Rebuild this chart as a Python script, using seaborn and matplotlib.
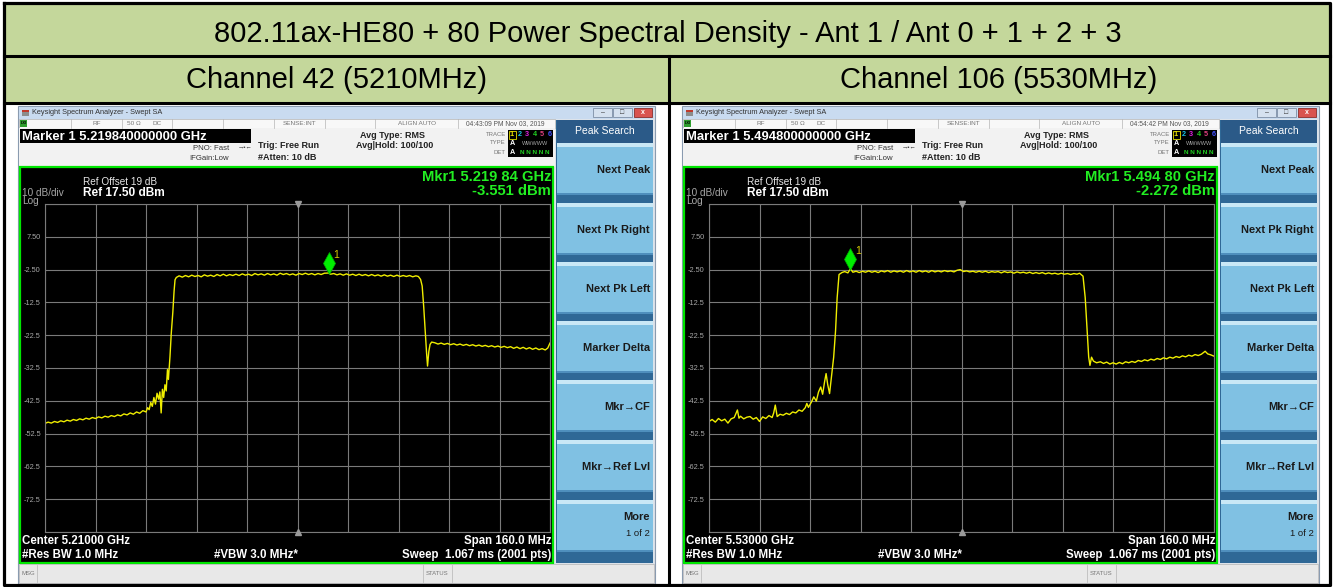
import matplotlib
matplotlib.use('Agg')
import matplotlib.pyplot as plt
import matplotlib.patches as mpatches
from matplotlib.transforms import offset_copy
import seaborn as sns

W, H = 1333, 587

title = '802.11ax-HE80 + 80 Power Spectral Density - Ant 1 / Ant 0 + 1 + 2 + 3'
channels = ['Channel 42 (5210MHz)', 'Channel 106 (5530MHz)']
center_mhz = [5210, 5530]
center_text = ['Center 5.21000 GHz', 'Center 5.53000 GHz']
span_mhz = 160
ref_level = 17.5
db_per_div = 10
marker_mhz = [5219.84, 5494.80]
marker_dbm = [-3.551, -2.272]
marker_head = ['Marker 1 5.219840000000 GHz', 'Marker 1 5.494800000000 GHz']
marker_read = ['Mkr1 5.219 84 GHz', 'Mkr1 5.494 80 GHz']
marker_val = ['-3.551 dBm', '-2.272 dBm']
timestamps = ['04:43:09 PM Nov 03, 2019', '04:54:42 PM Nov 03, 2019']
ytick_labels = ['7.50', '-2.50', '-12.5', '-22.5', '-32.5', '-42.5', '-52.5', '-62.5', '-72.5']
softkeys = ['Next Peak', 'Next Pk Right', 'Next Pk Left', 'Marker Delta', 'Mkr\u2192CF', 'Mkr\u2192Ref Lvl']

# trace (MHz, dBm)
ch42_freq = [
    5130, 5131, 5132, 5133, 5134, 5135, 5136, 5137, 5138, 5139,
    5140, 5141, 5142, 5143, 5144, 5145, 5146, 5147, 5148, 5149,
    5150, 5151, 5152, 5153, 5154, 5155, 5156, 5157, 5158, 5159,
    5160, 5161, 5162, 5162.5, 5163, 5163.5, 5164, 5164.5, 5165, 5165.5,
    5166, 5166.4, 5166.8, 5167.2, 5167.6, 5168, 5168.4, 5168.8, 5169.1, 5169.6,
    5170.0, 5170.5, 5170.9, 5171.2, 5171.6, 5172.5, 5173.5, 5174.5, 5175.5, 5176.5,
    5177.5, 5178.5, 5179.5, 5180.5, 5181.5, 5182.5, 5183.5, 5184.5, 5185.5, 5186.5,
    5187.5, 5188.5, 5189.5, 5190.5, 5191.5, 5192.5, 5193.5, 5194.5, 5195.5, 5196.5,
    5197.5, 5198.5, 5199.5, 5200.5, 5201.5, 5202.5, 5203.5, 5204.5, 5205.5, 5206.5,
    5207.5, 5208.5, 5209.5, 5210.5, 5211.5, 5212.5, 5213.5, 5214.5, 5215.5, 5216.5,
    5217.5, 5218.5, 5219.84, 5220.5, 5221.5, 5222.5, 5223.5, 5224.5, 5225.5, 5226.5,
    5227.5, 5228.5, 5229.5, 5230.5, 5231.5, 5232.5, 5233.5, 5234.5, 5235.5, 5236.5,
    5237.5, 5238.5, 5239.5, 5240.5, 5241.5, 5242.5, 5243.5, 5244.5, 5245.5, 5246.5,
    5247.5, 5248.3, 5249.0, 5249.5, 5250.0, 5250.5, 5250.9, 5251.2, 5251.6, 5252.0,
    5252.5, 5253.5, 5254.5, 5255.5, 5256.5, 5257.5, 5258.5, 5259.5, 5260.5, 5261.5,
    5262.5, 5263.5, 5264.5, 5265.5, 5266.5, 5267.5, 5268.5, 5269.5, 5270.5, 5271.5,
    5272.5, 5273.5, 5274.5, 5275.5, 5276.5, 5277.5, 5278.5, 5279.5, 5280.5, 5281.5,
    5282.5, 5283.5, 5284.5, 5285.5, 5286.5, 5287.5, 5288.5, 5289.3, 5290,
]
ch42_level = [
    -49.4, -49.0, -49.3, -48.8, -49.1, -48.6, -48.9, -48.4, -48.7, -48.2,
    -48.5, -48.0, -48.3, -47.8, -48.1, -47.6, -47.9, -47.4, -47.7, -47.2,
    -47.5, -47.0, -47.3, -46.8, -47.1, -46.5, -46.8, -46.2, -46.6, -45.9,
    -46.3, -45.5, -45.9, -44.6, -45.2, -43.0, -44.2, -41.5, -43.5, -40.2,
    -42.0, -39.8, -46.2, -39.0, -41.5, -37.6, -39.5, -33.0, -36.0, -29.0,
    -22.0, -15.5, -9.0, -5.6, -4.9, -4.4, -4.8, -4.3, -4.7, -4.2,
    -4.6, -4.3, -4.7, -4.1, -4.5, -4.2, -4.6, -4.0, -4.4, -3.9,
    -4.4, -4.0, -4.3, -3.9, -4.3, -3.8, -4.2, -3.9, -4.3, -3.7,
    -4.1, -3.8, -4.2, -3.7, -4.1, -3.8, -4.2, -3.6, -4.0, -3.7,
    -4.1, -3.8, -4.2, -3.7, -4.0, -3.6, -4.0, -3.7, -4.1, -3.7,
    -4.0, -3.6, -3.55, -3.9, -3.7, -4.1, -3.8, -4.2, -3.8, -4.2,
    -3.9, -4.3, -3.9, -4.3, -4.0, -4.4, -4.0, -4.4, -4.1, -4.5,
    -4.1, -4.5, -4.2, -4.6, -4.2, -4.6, -4.3, -4.6, -4.3, -4.7,
    -4.4, -4.6, -5.5, -7.5, -14.0, -22.0, -28.0, -31.9, -27.5, -25.3,
    -24.6, -24.8, -25.2, -24.9, -25.3, -25.0, -25.4, -25.1, -25.5, -25.2,
    -25.6, -25.3, -25.7, -25.4, -25.8, -25.5, -25.9, -25.6, -26.0, -25.7,
    -26.1, -25.8, -26.2, -25.9, -26.3, -26.0, -26.5, -26.1, -26.6, -26.2,
    -26.7, -26.3, -26.8, -26.4, -26.9, -26.6, -27.0, -26.4, -24.9,
]

# trace (MHz, dBm)
ch106_freq = [
    5450, 5451, 5452, 5453, 5454, 5455, 5456, 5457, 5458, 5459,
    5459.5, 5460, 5461, 5462, 5463, 5464, 5465, 5466, 5467, 5468,
    5469, 5470, 5470.5, 5471, 5471.6, 5472.5, 5473.5, 5474.5, 5475.5, 5476.5,
    5477.5, 5478.5, 5479.5, 5480.5, 5481, 5481.5, 5482.5, 5483.2, 5484, 5484.7,
    5485.4, 5486, 5486.6, 5487.1, 5487.6, 5488.2, 5488.8, 5489.5, 5490.1, 5490.6,
    5491.2, 5492.1, 5493.0, 5494.0, 5494.8, 5495.6, 5496.6, 5497.6, 5498.6, 5499.6,
    5500.6, 5501.6, 5502.6, 5503.6, 5504.6, 5505.6, 5506.6, 5507.6, 5508.6, 5509.6,
    5510.6, 5511.6, 5512.6, 5513.6, 5514.6, 5515.6, 5516.6, 5517.6, 5518.6, 5519.6,
    5520.6, 5521.6, 5522.6, 5523.6, 5524.6, 5525.6, 5526.6, 5527.6, 5528.6, 5529.6,
    5530.6, 5531.6, 5532.6, 5533.6, 5534.6, 5535.6, 5536.6, 5537.6, 5538.6, 5539.6,
    5540.6, 5541.6, 5542.6, 5543.6, 5544.6, 5545.6, 5546.6, 5547.6, 5548.6, 5549.6,
    5550.6, 5551.6, 5552.6, 5553.6, 5554.6, 5555.6, 5556.6, 5557.6, 5558.6, 5559.6,
    5560.6, 5561.6, 5562.6, 5563.6, 5564.6, 5565.6, 5566.6, 5567.4, 5568.5, 5569.2,
    5569.8, 5570.3, 5570.7, 5571.2, 5571.8, 5572.8, 5574.0, 5575.0, 5576.0, 5577.0,
    5578.0, 5579.0, 5580.0, 5581.0, 5582.0, 5583.0, 5584.0, 5585.0, 5586.0, 5587.0,
    5588.0, 5589.0, 5590.0, 5591.0, 5592.0, 5593.0, 5594.0, 5595.0, 5596.0, 5597.0,
    5598.0, 5599.0, 5600.0, 5601.0, 5602.0, 5603.0, 5604.0, 5605.0, 5606.0, 5607.2,
    5608.0, 5609.0, 5610.0,
]
ch106_level = [
    -48.8, -48.2, -49.0, -47.9, -48.6, -48.1, -49.3, -48.0, -47.6, -45.3,
    -47.8, -47.2, -48.0, -47.5, -47.3, -48.1, -47.6, -48.8, -47.4, -47.9,
    -47.0, -47.6, -46.2, -43.8, -47.3, -46.6, -46.9, -46.3, -46.7, -45.9,
    -46.2, -45.3, -45.7, -44.6, -43.3, -44.5, -42.8, -41.3, -42.6, -39.8,
    -38.3, -40.5, -36.8, -34.2, -37.5, -40.3, -35.2, -29.2, -21.1, -11.1,
    -4.0, -3.4, -3.1, -3.5, -2.27, -3.3, -3.0, -3.4, -3.0, -3.3,
    -2.9, -3.3, -3.0, -3.4, -2.9, -3.2, -2.8, -3.3, -2.9, -3.2,
    -2.9, -3.3, -2.8, -3.2, -2.9, -3.3, -2.8, -3.2, -2.9, -3.3,
    -2.8, -3.2, -2.9, -3.2, -2.8, -3.1, -2.9, -3.2, -2.7, -2.5,
    -3.1, -2.9, -3.2, -3.0, -3.3, -3.0, -3.3, -3.0, -3.4, -3.1,
    -3.3, -3.1, -3.5, -3.1, -3.4, -3.2, -3.6, -3.2, -3.5, -3.3,
    -3.6, -3.3, -3.7, -3.4, -3.7, -3.4, -3.8, -3.5, -3.8, -3.6,
    -3.9, -3.6, -3.9, -3.7, -4.0, -3.7, -3.9, -3.6, -4.5, -11.1,
    -21.1, -29.2, -31.7, -29.2, -30.4, -30.9, -30.6, -31.1, -30.7, -31.3,
    -30.9, -31.3, -30.8, -31.2, -30.6, -30.9, -30.5, -30.8, -30.2, -30.5,
    -30.0, -30.3, -29.8, -30.1, -29.6, -29.9, -29.4, -29.7, -29.2, -29.5,
    -29.0, -29.3, -28.8, -29.1, -28.6, -28.9, -28.4, -28.7, -28.3, -27.4,
    -28.2, -28.5, -28.9,
]

traces = [(ch42_freq, ch42_level), (ch106_freq, ch106_level)]

plt.rcParams['font.family'] = ['Liberation Sans', 'DejaVu Sans']

fig = plt.figure(figsize=(W / 100, H / 100), dpi=100)
ax0 = fig.add_axes([0, 0, 1, 1])
ax0.set_xlim(0, W)
ax0.set_ylim(H, 0)
ax0.axis('off')


def rect(x, y, w, h, **kw):
    kw.setdefault('lw', 0)
    ax0.add_patch(mpatches.Rectangle((x, y), w, h, **kw))


def txt(x, y, s, **kw):
    kw.setdefault('va', 'center')
    ax0.text(x, y, s, **kw)


# table
green = '#c4d79b'
rect(4, 4, 1325, 51, fc=green)
rect(4, 56, 1325, 47, fc=green)
ax0.plot([3.5, 1329.5, 1329.5, 3.5, 3.5], [2.5, 2.5, 584.5, 584.5, 2.5], color='black', lw=2.3)
ax0.plot([3.5, 1329.5], [55.5, 55.5], color='black', lw=2.2)
ax0.plot([3.5, 1329.5], [103, 103], color='black', lw=2.2)
ax0.plot([669, 669], [55.5, 584.5], color='black', lw=2.2)
txt(668, 34, title, ha='center', fontsize=21)
for i, ch in enumerate(channels):
    txt([337, 999][i], 80, ch, ha='center', fontsize=21)


def draw_window(i, ox):
    # frame, title bar
    rect(18 + ox, 106, 637, 478, fc='#dde3ea', ec='#8a9bb0', lw=0.8)
    rect(19 + ox, 107, 635, 12, fc='#c9dbf0')
    rect(22 + ox, 110, 7, 6, fc='#8c8c8c')
    rect(22 + ox, 110, 7, 2, fc='#c0392b')
    txt(32 + ox, 113, 'Keysight Spectrum Analyzer - Swept SA', fontsize=5.3, color='#333333')
    rect(593 + ox, 108, 19, 9, fc='#d5e1ef', ec='#7d8fa5', lw=0.6)
    rect(613 + ox, 108, 19, 9, fc='#d5e1ef', ec='#7d8fa5', lw=0.6)
    rect(634 + ox, 108, 18, 9, fc='#d9534f', ec='#8b2e2b', lw=0.6)
    txt(602.5 + ox, 112.5, '\u2013', ha='center', fontsize=5, color='#333333')
    txt(622.5 + ox, 112.5, '\u25a1', ha='center', fontsize=5, color='#333333')
    txt(643 + ox, 112.5, 'x', ha='center', fontsize=5, color='white', weight='bold')

    # status row
    rect(19 + ox, 119, 536, 9, fc='#f8f8f8', ec='#b5b5b5', lw=0.5)
    for dx in [71, 122, 172, 223, 274, 325, 375, 458]:
        ax0.plot([dx + ox, dx + ox], [119, 128], color='#b5b5b5', lw=0.5)
    rect(20 + ox, 120, 7, 7, fc='#2e9e2e')
    txt(23.5 + ox, 123.5, 'LXI', ha='center', fontsize=2.8, color='black', weight='bold')
    for s, x in [('RF', 97), ('50 \u03a9', 134), ('DC', 157), ('SENSE:INT', 300), ('ALIGN AUTO', 417)]:
        txt(x + ox, 123.5, s, ha='center', fontsize=4.6, color='#777777')
    txt(505 + ox, 123.5, timestamps[i], ha='center', fontsize=4.8, color='#555555')

    # settings area
    rect(19 + ox, 128, 536, 39, fc='#f2f2f2')
    rect(20 + ox, 129, 231, 14, fc='black')
    txt(22 + ox, 136.5, marker_head[i], fontsize=9.4, color='white', weight='bold')
    txt(229 + ox, 148, 'PNO: Fast', ha='right', fontsize=5.6, color='#333333')
    txt(245 + ox, 148, '\u2192\u2022\u2190', ha='center', fontsize=4.5, color='#333333')
    txt(229 + ox, 158, 'IFGain:Low', ha='right', fontsize=5.6, color='#333333')
    txt(258 + ox, 146, 'Trig: Free Run', fontsize=6.5, color='#222222', weight='bold')
    txt(258 + ox, 157, '#Atten: 10 dB', fontsize=6.5, color='#222222', weight='bold')
    txt(392 + ox, 136, 'Avg Type: RMS', ha='center', fontsize=6.5, color='#222222', weight='bold')
    txt(395 + ox, 146, 'Avg|Hold: 100/100', ha='center', fontsize=6.5, color='#222222', weight='bold')
    for s, y in [('TRACE', 134), ('TYPE', 143), ('DET', 152)]:
        txt(506 + ox, y, s, ha='right', fontsize=4.3, color='#777777')
    rect(508 + ox, 130, 45, 27, fc='black')
    trace_cols = ['#e8e000', '#19c5e6', '#e020e0', '#20d020', '#e04080', '#4050ff']
    for k, c in enumerate(trace_cols):
        txt(512 + 7.5 * k + ox, 134.5, str(k + 1), ha='center', fontsize=5.2, color=c, weight='bold')
    rect(509 + ox, 131, 7, 8, fc='none', ec='#e8e000', lw=0.6)
    txt(512 + ox, 143.5, 'A', ha='center', fontsize=5.2, color='white', weight='bold')
    txt(535 + ox, 143.5, 'WWWWW', ha='center', fontsize=4.0, color='#aaaaaa')
    txt(512 + ox, 152.5, 'A', ha='center', fontsize=5.2, color='white', weight='bold')
    txt(535 + ox, 152.5, 'N N N N N', ha='center', fontsize=4.6, color='#20d020', weight='bold')

    # screen
    rect(20 + ox, 167, 533, 396, fc='black', ec='#00e600', lw=1.6)
    txt(83 + ox, 182, 'Ref Offset 19 dB', fontsize=7.2, color='#e6e6e6')
    txt(83 + ox, 193.5, 'Ref 17.50 dBm', fontsize=8.6, color='white', weight='bold')
    txt(22 + ox, 193, '10 dB/div', fontsize=7.2, color='#a8a8a8')
    txt(22 + ox, 201, 'Log', fontsize=7.2, color='#a8a8a8')
    txt(551 + ox, 177, marker_read[i], ha='right', fontsize=10.6, color='#22ee22', weight='bold')
    txt(551 + ox, 191, marker_val[i], ha='right', fontsize=10.6, color='#22ee22', weight='bold')
    txt(22 + ox, 541, center_text[i], fontsize=8.3, color='white', weight='bold')
    txt(22 + ox, 555, '#Res BW 1.0 MHz', fontsize=8.3, color='white', weight='bold')
    txt(214 + ox, 555, '#VBW 3.0 MHz*', fontsize=8.3, color='white', weight='bold')
    txt(551 + ox, 541, 'Span 160.0 MHz', ha='right', fontsize=8.3, color='white', weight='bold')
    txt(551 + ox, 555, 'Sweep  1.067 ms (2001 pts)', ha='right', fontsize=8.3, color='white', weight='bold')

    # softkeys
    rect(556 + ox, 120, 97, 443, fc='#2f6896')
    rect(557 + ox, 120, 96, 23, fc='#2b5a88')
    txt(605 + ox, 131.5, 'Peak Search', ha='center', fontsize=7.5, color='white')
    tops = [143, 203, 262, 321, 380, 440, 500]
    for k, t in enumerate(tops):
        rect(557 + ox, t, 96, 52, fc='#80c1e3')
        rect(557 + ox, t, 96, 4, fc='#c9e8f6')
        rect(557 + ox, t + 50, 96, 2, fc='#4f8fbd')
        if k < len(softkeys):
            txt(650 + ox, t + 27, softkeys[k], ha='right', fontsize=8, color='#1a1a1a', weight='bold')
    txt(650 + ox, 517, 'More', ha='right', fontsize=8, color='#1a1a1a', weight='bold')
    txt(650 + ox, 533, '1 of 2', ha='right', fontsize=6.8, color='#1a1a1a')

    # message bar
    rect(19 + ox, 564, 635, 19, fc='#e8e8e8', ec='#b5b5b5', lw=0.5)
    ax0.plot([37 + ox, 37 + ox], [565, 582], color='#b5b5b5', lw=0.5)
    txt(22 + ox, 573.5, 'MSG', fontsize=4.3, color='#777777')
    ax0.plot([423 + ox, 423 + ox], [565, 582], color='#b5b5b5', lw=0.5)
    ax0.plot([452 + ox, 452 + ox], [565, 582], color='#b5b5b5', lw=0.5)
    txt(437.5 + ox, 573.5, 'STATUS', ha='center', fontsize=4.3, color='#777777')


for i, ox in enumerate([0, 664]):
    draw_window(i, ox)

    x0, x1, y0, y1 = 45 + ox, 550 + ox, 204, 532
    ax = fig.add_axes([x0 / W, 1 - y1 / H, (x1 - x0) / W, (y1 - y0) / H])
    ax.set_facecolor('black')
    f, lv = traces[i]
    sns.lineplot(x=f, y=lv, ax=ax, color='#f0ee00', linewidth=1.0, estimator=None, legend=False)

    lo = center_mhz[i] - span_mhz / 2
    hi = center_mhz[i] + span_mhz / 2
    bottom = ref_level - 10 * db_per_div
    ax.set_xlim(lo, hi)
    ax.set_ylim(bottom, ref_level)
    ax.set_xticks([lo + k * span_mhz / 10 for k in range(11)])
    ax.set_xticklabels([])
    yt = [ref_level - k * db_per_div for k in range(11)]
    ax.set_yticks(yt)
    ax.set_yticklabels([''] + ytick_labels + [''])
    ax.tick_params(length=0, colors='#a8a8a8', labelsize=5.3, pad=3)
    ax.grid(True, color='#7a7a7a', lw=0.8)
    ax.set_axisbelow(True)
    for sp in ax.spines.values():
        sp.set_color('#7a7a7a')
        sp.set_linewidth(0.8)
    ax.set_xlabel('')
    ax.set_ylabel('')

    ax.plot(center_mhz[i], ref_level, marker='v', color='#9a9a9a', ms=5, clip_on=False, zorder=5)
    ax.plot(center_mhz[i], bottom, marker='^', color='#9a9a9a', ms=5, clip_on=False, zorder=5)

    up = offset_copy(ax.transData, fig=fig, y=10, units='dots')
    ax.plot(marker_mhz[i], marker_dbm[i], marker='d', color='#00ee00', ms=11, mec='#00aa00',
            mew=0.5, transform=up, zorder=6)
    lab = offset_copy(ax.transData, fig=fig, x=8, y=18, units='dots')
    ax.text(marker_mhz[i], marker_dbm[i], '1', transform=lab, fontsize=7.5, color='#d8cc00',
            va='center', ha='center', zorder=6)

fig.savefig('out.png', dpi=100)
